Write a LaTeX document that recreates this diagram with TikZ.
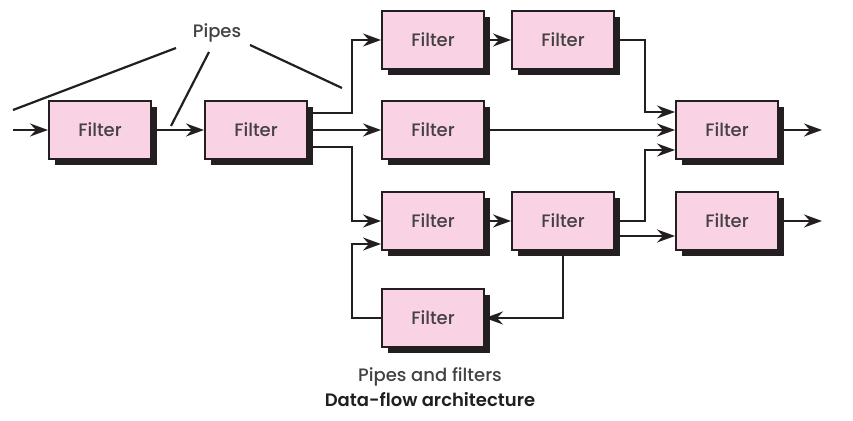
\documentclass[tikz,border=0pt]{standalone}
\usepackage{fontspec}
\setmainfont{Poppins}[UprightFont={* Medium}, BoldFont={* SemiBold}]
\usetikzlibrary{positioning,shapes,shadows,arrows.meta}
\definecolor{filterpink}{RGB}{249,210,228}
\definecolor{inkgray}{RGB}{35,31,32}
\tikzset{
  filter/.style={rectangle, draw=inkgray, line width=1pt, fill=filterpink,
    minimum width=51pt, minimum height=29pt, inner sep=0pt,
    font=\fontsize{9}{10}\selectfont, text=inkgray!85,
    drop shadow={shadow xshift=3pt, shadow yshift=-3pt, fill=inkgray, opacity=1}},
  pipe/.style={draw=inkgray, line width=1.1pt,
    -{Stealth[length=9pt, width=6.5pt, inset=3pt]}},
  pointer/.style={draw=inkgray, line width=1.1pt},
}
\begin{document}
\begin{tikzpicture}[x=0.5pt, y=-0.5pt]
    \useasboundingbox (0,0) rectangle (853,421);

    % filters
    \node[filter] (src)   at (100,130) {Filter};
    \node[filter] (split) at (256,130) {Filter};
    \node[filter] (topA)  at (433,40)  {Filter};
    \node[filter] (topB)  at (563,40)  {Filter};
    \node[filter] (mid)   at (433,130) {Filter};
    \node[filter] (merge) at (727,130) {Filter};
    \node[filter] (lowA)  at (433,221) {Filter};
    \node[filter] (lowB)  at (563,221) {Filter};
    \node[filter] (out)   at (727,221) {Filter};
    \node[filter] (loop)  at (433,318) {Filter};

    % labels
    \node[font=\fontsize{9}{10}\selectfont, text=inkgray!85] (pipes) at (217,33) {Pipes};
    \node[font=\fontsize{9}{10}\selectfont, text=inkgray!85] (cap) at (430,377) {Pipes and filters};
    \node[font=\fontsize{9}{10}\selectfont\bfseries, text=inkgray] (title) at (430,400) {Data-flow architecture};

    % free ends
    \coordinate (in)   at (13,130);
    \coordinate (endA) at (822,130);
    \coordinate (endB) at (822,221);
    \coordinate (jl)   at (352,0);
    \coordinate (jr)   at (645,0);

    % pipes
    \draw[pipe] (in) -- (src);
    \draw[pipe] (src) -- (split);
    \draw[pipe] ([yshift=8.5pt]split.east) -| (jl |- topA) -- (topA);
    \draw[pipe] (split) -- (mid);
    \draw[pipe] ([yshift=-8.5pt]split.east) -| (jl |- lowA) -- (lowA);
    \draw[pipe] (topA) -- (topB);
    \draw[pipe] (topB) -| ([yshift=9pt]jr |- merge) -- ([yshift=9pt]merge.west);
    \draw[pipe] (mid) -- (merge);
    \draw[pipe] (lowA) -- (lowB);
    \draw[pipe] (lowB) -| ([yshift=-10pt]jr |- merge) -- ([yshift=-10pt]merge.west);
    \draw[pipe] ([yshift=-7.5pt]lowB.east) -- ([yshift=-7.5pt]out.west);
    \draw[pipe] (lowB) |- (loop);
    \draw[pipe] (loop) -| ([yshift=-11.5pt]jl |- lowA) -- ([yshift=-11.5pt]lowA.west);
    \draw[pipe] (merge) -- (endA);
    \draw[pipe] (out) -- (endB);

    % pointers from the label
    \coordinate (p1) at (13,110);
    \coordinate (p2) at (171,126);
    \coordinate (p3) at (342,88);
    \draw[pointer] (176,48) coordinate (s1) -- (p1);
    \draw[pointer] (209,52) coordinate (s2) -- (p2);
    \draw[pointer] (250,45) coordinate (s3) -- (p3);
\end{tikzpicture}
\end{document}
